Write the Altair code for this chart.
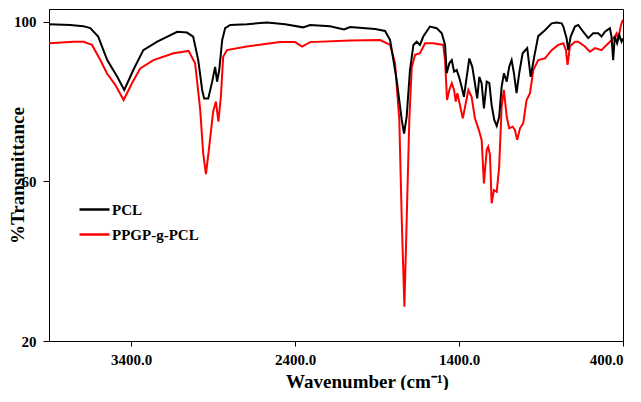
import altair as alt
import pandas as pd

# PCL spectrum (wavenumber cm-1, %T)
pcl_wn = [3900, 3770, 3691, 3648, 3600, 3545, 3484, 3441, 3386, 3325, 3240, 3118, 3059, 3021,
          2990, 2966, 2954, 2929, 2905, 2887, 2875, 2862, 2844, 2826, 2795, 2692, 2570, 2460,
          2351, 2308, 2186, 2101, 2064, 1912, 1851, 1820, 1780, 1749, 1735, 1719, 1699, 1678,
          1658, 1638, 1618, 1577, 1536, 1505, 1485, 1475, 1459, 1444, 1430, 1414, 1400, 1384,
          1370, 1353, 1337, 1319, 1303, 1289, 1276, 1262, 1248, 1231, 1215, 1201, 1185, 1170,
          1155, 1140, 1126, 1109, 1094, 1079, 1065, 1049, 1033, 1012, 984, 963, 940, 917, 876,
          835, 805, 774, 764, 744, 734, 719, 693, 673, 643, 612, 582, 551, 531, 510, 480, 470,
          460, 450, 436, 423, 409, 400]
pcl_t = [99.4, 99.2, 98.9, 98.4, 96.3, 90.4, 86.2, 82.9, 87.9, 92.9, 95.0, 97.5, 97.3, 96.3,
         90.4, 82.9, 80.8, 80.8, 85.0, 88.7, 85.0, 87.9, 95.4, 98.4, 99.2, 99.4, 99.8, 99.4,
         98.6, 99.2, 98.9, 98.1, 98.7, 98.2, 97.7, 95.4, 85.4, 75.4, 72.0, 76.2, 87.9, 94.2,
         95.0, 94.2, 96.3, 98.8, 98.4, 97.1, 94.2, 87.1, 89.6, 90.4, 87.5, 87.9, 86.2, 83.7,
         81.2, 86.2, 90.8, 88.7, 84.6, 80.8, 86.2, 84.6, 78.3, 85.0, 84.6, 79.1, 75.4, 73.9,
         76.2, 83.7, 87.1, 85.0, 88.7, 90.4, 87.1, 82.1, 87.1, 92.1, 93.4, 86.2, 91.5, 96.4, 97.9,
         99.6, 99.8, 99.6, 98.8, 95.9, 92.9, 96.3, 98.8, 99.2, 97.5, 95.9, 97.1, 97.1, 96.3, 97.5,
         98.4, 96.3, 90.4, 96.3, 94.6, 96.7, 95.0, 95.9]

# PPGP-g-PCL spectrum
ppgp_wn = [3900, 3750, 3689, 3638, 3587, 3547, 3496, 3445, 3394, 3344, 3263, 3141, 3049, 3009,
           2978, 2960, 2943, 2923, 2899, 2882, 2867, 2852, 2838, 2815, 2694, 2491, 2399, 2357,
           2308, 2064, 1881, 1820, 1790, 1764, 1749, 1733, 1719, 1703, 1688, 1668, 1638, 1607,
           1557, 1496, 1485, 1473, 1459, 1444, 1430, 1420, 1410, 1394, 1377, 1363, 1343, 1323,
           1303, 1282, 1262, 1248, 1231, 1222, 1211, 1201, 1187, 1170, 1155, 1140, 1126, 1109,
           1094, 1073, 1059, 1045, 1028, 1008, 988, 967, 947, 917, 876, 835, 795, 764, 748, 738,
           724, 693, 673, 632, 602, 571, 531, 500, 470, 450, 439, 429, 419, 409, 400]
ppgp_t = [94.6, 95.0, 95.0, 94.2, 90.4, 87.1, 84.2, 80.4, 84.6, 88.3, 90.4, 92.1, 92.7, 89.6,
          77.9, 67.1, 61.8, 68.7, 77.5, 80.0, 75.0, 81.2, 91.2, 92.9, 93.8, 94.9, 94.9, 93.8,
          94.9, 95.3, 95.4, 94.2, 89.6, 75.4, 50.3, 28.6, 50.3, 75.4, 88.7, 91.7, 92.1, 94.6,
          94.6, 94.2, 90.4, 80.4, 82.9, 84.6, 82.9, 80.0, 82.1, 79.1, 75.8, 78.7, 82.9, 81.2,
          75.8, 73.3, 70.4, 59.5, 67.9, 68.7, 66.6, 54.5, 57.8, 57.4, 63.7, 78.7, 82.9, 76.2,
          73.3, 73.7, 72.9, 70.4, 73.3, 74.6, 80.4, 82.1, 87.9, 90.4, 90.8, 92.9, 94.2, 94.6, 92.9, 89.2,
          93.8, 95.0, 95.0, 93.8, 92.5, 93.4, 92.9, 94.2, 95.4, 96.3, 97.1, 95.4, 97.9, 99.6, 100.5]

series_names = ["PCL", "PPGP-g-PCL"]
series_colors = ["#000000", "#ff0000"]
x_ticks = [3400, 2400, 1400, 400]
y_ticks = [20, 60, 100]

df_pcl = pd.DataFrame({"wn": pcl_wn, "t": pcl_t, "s": series_names[0], "o": range(len(pcl_wn))})
df_ppgp = pd.DataFrame({"wn": ppgp_wn, "t": ppgp_t, "s": series_names[1], "o": range(len(ppgp_wn))})

font = "Liberation Serif"

x_enc = alt.X("wn:Q",
              scale=alt.Scale(domain=[400, 3900], reverse=True, nice=False, zero=False),
              axis=alt.Axis(values=x_ticks, format=".1f", title="Wavenumber (cm\u207b\u00b9)",
                            titleX=318, titleY=46, titleBaseline="alphabetic", titleAlign="center",
                            tickSize=5, labelPadding=6))
y_enc = alt.Y("t:Q",
              scale=alt.Scale(domain=[20, 103.2], nice=False, zero=False),
              axis=alt.Axis(values=y_ticks, title="%Transmittance", titleX=-26, titleY=166,
                            titleAngle=270, titleBaseline="alphabetic", titleAlign="center",
                            tickSize=6, labelPadding=7))
color_enc = alt.Color("s:N",
                      scale=alt.Scale(domain=series_names, range=series_colors),
                      legend=alt.Legend(title=None, orient="none", legendX=29, legendY=184,
                                        symbolType="stroke", symbolSize=900, symbolStrokeWidth=2.5,
                                        labelOffset=1, rowPadding=-5, padding=0,
                                        labelFont=font, labelFontSize=15, labelFontWeight="bold",
                                        labelColor="#000000"))

red = alt.Chart(df_ppgp).mark_line(strokeWidth=2, clip=True).encode(
    x=x_enc, y=y_enc, color=color_enc, order="o:Q")
black = alt.Chart(df_pcl).mark_line(strokeWidth=2, clip=True).encode(
    x=x_enc, y=y_enc, color=color_enc, order="o:Q")

chart = alt.layer(red, black).properties(
    width=574, height=332,
    autosize=alt.AutoSizeParams(type="none"),
    padding={"left": 41, "top": 1, "right": 10, "bottom": 49},
).configure_view(
    stroke="#000000", strokeWidth=1
).configure_axis(
    grid=False, domainColor="#000000", domainWidth=1, tickColor="#000000", tickWidth=1,
    labelFont=font, labelFontSize=15, labelFontWeight="bold", labelColor="#000000",
    titleFont=font, titleFontSize=19, titleFontWeight="bold", titleColor="#000000"
)

chart.save("out.html", embed_options={"renderer": "svg", "actions": False})
